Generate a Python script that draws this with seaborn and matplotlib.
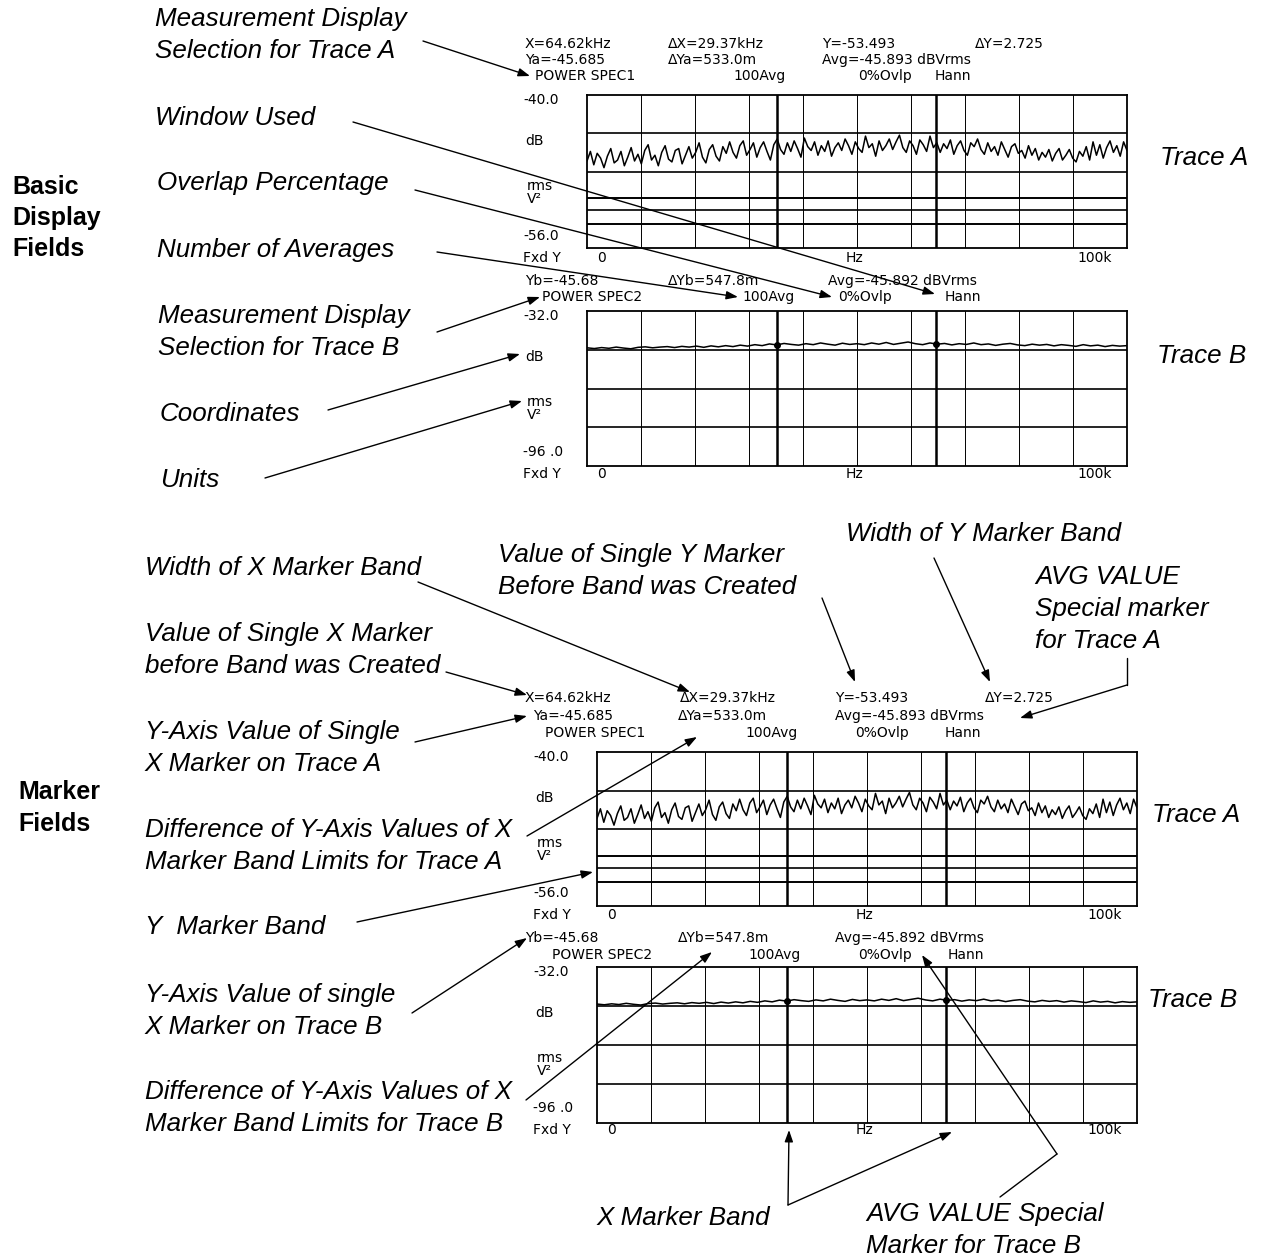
import numpy as np
import matplotlib
matplotlib.use("Agg")
import matplotlib.pyplot as plt
import seaborn as sns

# Trace A: power spectrum, dB, left (0 Hz) to right (100 kHz)
trace_a = [
    -46.9, -45.9, -47.3, -46.1, -46.6, -47.6, -46.4, -45.6, -47.1, -46.8, -45.9, -47.4, -46.5, -45.5, -46.9, -46.2,
    -47.2, -45.8, -45.2, -46.8, -46.3, -47.4, -46.0, -45.3, -46.7, -47.0, -45.8, -45.6, -47.2, -46.3, -45.4, -46.6,
    -46.0, -45.0, -46.5, -47.1, -45.7, -45.2, -46.4, -46.9, -45.4, -46.1, -44.9, -46.0, -46.6, -45.3, -44.8, -46.3,
    -45.7, -45.0, -46.5, -45.5, -44.9, -45.9, -46.8, -45.2, -44.6, -45.7, -46.2, -45.0, -45.9, -44.8, -45.6, -46.5,
    -44.5, -45.4, -45.8, -44.9, -46.3, -45.3, -45.9, -44.8, -46.4, -45.5, -45.0, -45.8, -44.6, -45.3, -46.2, -44.9,
    -45.6, -46.0, -44.3, -45.5, -45.1, -46.4, -44.8, -45.8, -45.3, -44.6, -45.7, -44.9, -44.2, -45.5, -46.0, -44.8,
    -45.3, -46.2, -44.7, -45.2, -45.9, -44.3, -45.5, -45.0, -46.0, -45.1, -45.6, -44.7, -46.2, -45.3, -44.8, -45.8,
    -46.3, -45.0, -45.4, -44.6, -45.7, -46.2, -45.0, -45.9, -45.4, -46.3, -44.9, -45.7, -46.5, -45.4, -45.1, -46.1,
    -45.8, -46.6, -45.3, -46.3, -45.6, -46.8, -46.0, -46.5, -45.7, -46.9, -46.1, -45.6, -46.8, -46.3, -45.7, -46.6,
    -47.0, -45.9, -46.4, -45.4, -46.8, -44.9, -46.3, -45.2, -46.6, -45.5, -44.8, -46.0, -45.3, -46.4, -44.9, -45.8,
]

# Trace B: second power spectrum, dB
trace_b = [
    -47.2, -47.5, -47.1, -47.4, -46.9, -47.3, -47.6, -47.0, -46.8, -47.2, -46.9, -46.7, -47.1, -46.6, -46.9,
    -46.5, -47.0, -46.4, -46.8, -46.3, -46.7, -46.1, -46.5, -45.9, -46.3, -45.6, -46.0, -45.4, -45.8, -46.1,
    -45.5, -45.9, -45.2, -45.7, -46.1, -45.3, -45.8, -45.5, -45.9, -45.2, -45.7, -45.0, -45.8, -45.3, -44.8,
    -45.5, -45.9, -45.2, -45.7, -45.4, -46.0, -45.5, -45.8, -45.2, -45.9, -45.6, -46.2, -45.7, -45.4, -46.0,
    -46.3, -45.7, -46.1, -45.8, -46.4, -45.9, -46.2, -46.6, -45.9, -46.4, -46.1, -46.7, -46.2, -46.5, -46.3,
]

# marker readouts
x_marker_khz = 64.62
dx_band_khz = 29.37
y_marker_db = -53.493
dy_band_db = 2.725

# display scales
scale_a = (-56.0, -40.0)
scale_b = (-96.0, -32.0)
span_khz = 100

W, H = 1261, 1259
sns.set_style("white")
plt.rcParams["font.family"] = ["Liberation Sans", "DejaVu Sans"]
plt.rcParams["text.color"] = "black"

fig = plt.figure(figsize=(W / 100, H / 100), dpi=100)


def panel(box, trace, ylim, ystep, yband=False, dots=False):
    x0, y0, x1, y1 = box
    ax = fig.add_axes([x0 / W, 1 - y1 / H, (x1 - x0) / W, (y1 - y0) / H])
    freq = np.linspace(0, span_khz, len(trace))
    sns.lineplot(x=freq, y=trace, ax=ax, color="black", lw=1.1)
    ax.set_xlim(0, span_khz)
    ax.set_ylim(*ylim)
    for f in range(10, span_khz, 10):
        ax.axvline(f, color="black", lw=0.7)
    for v in np.arange(ylim[0] + ystep, ylim[1], ystep):
        ax.axhline(v, color="black", lw=1.2)
    band = [x_marker_khz - dx_band_khz, x_marker_khz]
    for f in band:
        ax.axvline(f, color="black", lw=1.8)
    if yband:
        for v in (y_marker_db, y_marker_db + dy_band_db):
            ax.axhline(v, color="black", lw=1.4)
    if dots:
        ax.scatter(band, np.interp(band, freq, trace), s=16, color="black", zorder=5)
    ax.set_xticks([])
    ax.set_yticks([])
    ax.set(xlabel="", ylabel="")
    for s in ax.spines.values():
        s.set_color("black")
        s.set_linewidth(1.3)
    return ax


panel((587, 95, 1127, 248), trace_a, scale_a, 4, yband=True)
panel((587, 311, 1127, 466), trace_b, scale_b, 16, dots=True)
panel((597, 752, 1137, 906), trace_a, scale_a, 4, yband=True)
panel((597, 967, 1137, 1123), trace_b, scale_b, 16, dots=True)

# overlay in pixel coordinates for all text and arrows
ov = fig.add_axes([0, 0, 1, 1], zorder=10)
ov.set_xlim(0, W)
ov.set_ylim(H, 0)
ov.axis("off")


def small(x, y, s, ha="left"):
    ov.text(x, y, s, fontsize=10, family="DejaVu Sans", ha=ha, va="center", color="black")


def axis_text(dx, dy, top, bot):
    small(523 + dx, 100 + dy, top)
    small(525 + dx, 141 + dy, "dB")
    small(527 + dx, 186 + dy, "rms")
    small(527 + dx, 199 + dy, "V²")
    small(523 + dx, 236 + dy, bot)
    small(523 + dx, 258 + dy, "Fxd Y")
    small(597 + dx, 258 + dy, "0")
    small(846 + dx, 258 + dy, "Hz")
    small(1112 + dx, 258 + dy, "100k", ha="right")


def header(rows):
    for y, items in rows:
        for x, s in items:
            small(x, y, s)


header([
    (44, [(525, "X=64.62kHz"), (668, "ΔX=29.37kHz"), (822, "Y=-53.493"), (975, "ΔY=2.725")]),
    (60, [(525, "Ya=-45.685"), (668, "ΔYa=533.0m"), (822, "Avg=-45.893 dBVrms")]),
    (76, [(535, "POWER SPEC1"), (733, "100Avg"), (858, "0%Ovlp"), (935, "Hann")]),
])
axis_text(0, 0, "-40.0", "-56.0")
header([
    (281, [(525, "Yb=-45.68"), (668, "ΔYb=547.8m"), (828, "Avg=-45.892 dBVrms")]),
    (297, [(542, "POWER SPEC2"), (742, "100Avg"), (838, "0%Ovlp"), (945, "Hann")]),
])
axis_text(0, 216, "-32.0", "-96 .0")

header([
    (698, [(525, "X=64.62kHz"), (680, "ΔX=29.37kHz"), (835, "Y=-53.493"), (985, "ΔY=2.725")]),
    (716, [(533, "Ya=-45.685"), (678, "ΔYa=533.0m"), (835, "Avg=-45.893 dBVrms")]),
    (733, [(545, "POWER SPEC1"), (745, "100Avg"), (855, "0%Ovlp"), (945, "Hann")]),
])
axis_text(10, 657, "-40.0", "-56.0")
header([
    (938, [(525, "Yb=-45.68"), (678, "ΔYb=547.8m"), (835, "Avg=-45.892 dBVrms")]),
    (955, [(552, "POWER SPEC2"), (748, "100Avg"), (858, "0%Ovlp"), (948, "Hann")]),
])
axis_text(10, 872, "-32.0", "-96 .0")


def label(x, y, s, bold=False, gap=32):
    for i, line in enumerate(s.split("\n")):
        ov.text(x, y + i * gap, line, fontsize=18 if bold else 18.7,
                fontstyle="normal" if bold else "italic",
                fontweight="bold" if bold else "normal",
                ha="left", va="center", color="black")


labels = [
    (155, 19, "Measurement Display\nSelection for Trace A"),
    (155, 118, "Window Used"),
    (157, 183, "Overlap Percentage"),
    (157, 250, "Number of Averages"),
    (158, 316, "Measurement Display\nSelection for Trace B"),
    (160, 414, "Coordinates"),
    (160, 480, "Units"),
    (1160, 158, "Trace A"),
    (1157, 356, "Trace B"),
    (145, 568, "Width of X Marker Band"),
    (498, 555, "Value of Single Y Marker\nBefore Band was Created"),
    (846, 534, "Width of Y Marker Band"),
    (1035, 577, "AVG VALUE\nSpecial marker\nfor Trace A"),
    (145, 634, "Value of Single X Marker\nbefore Band was Created"),
    (145, 732, "Y-Axis Value of Single\nX Marker on Trace A"),
    (145, 830, "Difference of Y-Axis Values of X\nMarker Band Limits for Trace A"),
    (145, 927, "Y  Marker Band"),
    (145, 995, "Y-Axis Value of single\nX Marker on Trace B"),
    (145, 1092, "Difference of Y-Axis Values of X\nMarker Band Limits for Trace B"),
    (597, 1218, "X Marker Band"),
    (866, 1214, "AVG VALUE Special\nMarker for Trace B"),
    (1152, 815, "Trace A"),
    (1148, 1000, "Trace B"),
]
for x, y, s in labels:
    label(x, y, s)

label(12, 187, "Basic\nDisplay\nFields", bold=True, gap=31)
label(18, 792, "Marker\nFields", bold=True, gap=32)

arrows = [
    ((423, 41), (530, 76)),
    ((353, 122), (935, 294)),
    ((415, 190), (832, 297)),
    ((437, 252), (738, 297)),
    ((437, 332), (540, 297)),
    ((328, 410), (520, 354)),
    ((265, 478), (522, 401)),
    ((418, 582), (690, 692)),
    ((822, 598), (855, 682)),
    ((934, 558), (990, 682)),
    ((1127, 685), (1020, 718)),
    ((446, 672), (527, 695)),
    ((415, 742), (527, 716)),
    ((527, 836), (697, 737)),
    ((357, 922), (593, 872)),
    ((412, 1013), (527, 938)),
    ((526, 1100), (712, 952)),
    ((788, 1205), (789, 1130)),
    ((788, 1205), (952, 1132)),
    ((1057, 1154), (922, 955)),
]
for start, end in arrows:
    ov.annotate("", xy=end, xytext=start,
                arrowprops=dict(arrowstyle="-|>,head_length=0.7,head_width=0.25",
                                color="black", lw=1.0, shrinkA=0, shrinkB=0,
                                mutation_scale=10))

ov.plot([1127, 1127], [658, 685], color="black", lw=1.0)
ov.plot([1000, 1057], [1197, 1154], color="black", lw=1.0)

fig.savefig("out.png", dpi=100, facecolor="white")
